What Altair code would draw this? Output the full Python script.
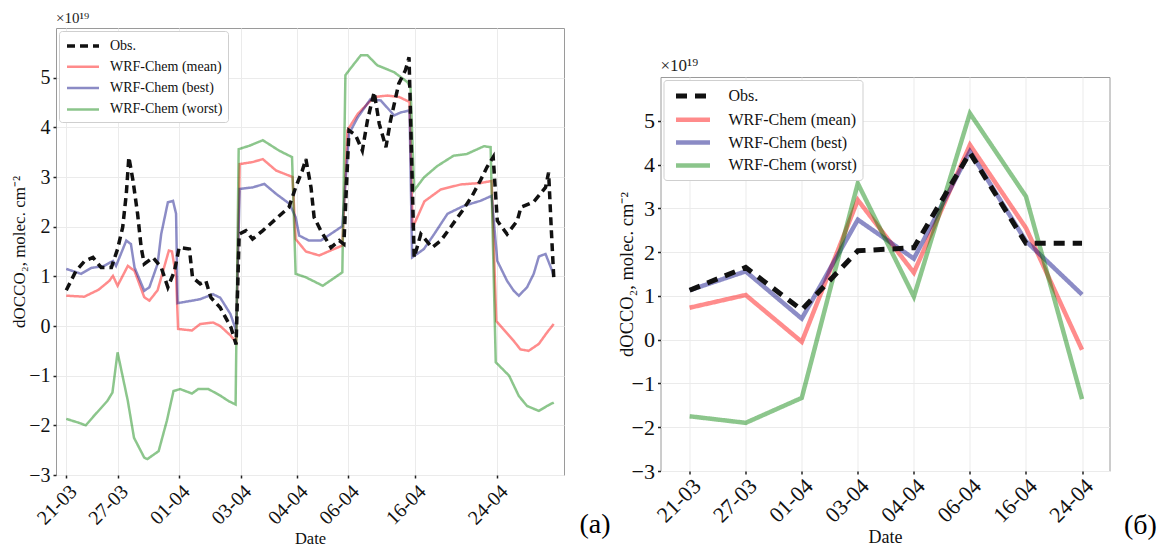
import altair as alt
import pandas as pd

FONT = "Liberation Serif"
SERIES = ["Obs.", "WRF-Chem (mean)", "WRF-Chem (best)", "WRF-Chem (worst)"]
COLORS = ["#111111", "red", "navy", "green"]
OPACITY = [1.0, 0.45, 0.45, 0.45]
DATES = ["21-03", "27-03", "01-04", "03-04", "04-04", "06-04", "16-04", "24-04"]
Y_TICKS = [-3, -2, -1, 0, 1, 2, 3, 4, 5]
PANEL_LABELS = ["(a)", "(б)"]
SCALE_NOTE = "×10¹⁹"
Y_TITLE = "dOCCO₂, molec. cm⁻²"
X_TITLE = "Date"

# ---- panel (a): hourly series, x = sample index ----
a_tick_idx = [0, 10, 22, 34, 45, 55, 68, 84]

a_obs_x = [0, 1.9, 3.6, 5.2, 6.8, 8.8, 10, 11, 11.7, 12.2, 13, 13.9, 14.6, 15.2, 16.9, 18.5,
           19.8, 21.1, 22, 24, 24.6, 26.1, 27.2, 28.2, 30, 32.1, 33.1, 33.7, 35, 36.3, 38.3,
           40.9, 43.4, 44.7, 46.0, 46.7, 47.7, 48.3, 49.6, 51.6, 53.2, 54.1, 55.1, 56.4, 57.7,
           58.7, 60, 61, 62.3, 63.2, 64.8, 66.1, 66.8, 67.8, 69.1, 71.3, 73, 74.9, 77.2, 79.1,
           80.7, 82, 83.2, 84, 85.9, 87.9, 88.6, 91.1, 93.4, 94.0, 94.5, 95]
a_obs_y = [0.72, 1.11, 1.31, 1.38, 1.18, 1.18, 1.55, 1.99, 2.66, 3.40, 2.93, 2.26, 1.58, 1.25,
           1.38, 1.18, 0.78, 1.11, 1.58, 1.55, 0.98, 0.85, 0.91, 0.57, 0.37, -0.03, -0.37, 1.85,
           1.92, 1.75, 1.92, 2.16, 2.39, 2.79, 3.13, 3.36, 2.79, 2.19, 1.92, 1.58, 1.72, 1.65,
           3.94, 3.84, 3.53, 4.14, 4.71, 4.07, 3.60, 4.14, 4.88, 5.15, 5.41, 1.38, 1.85, 1.58,
           1.72, 1.99, 2.32, 2.62, 2.93, 3.20, 3.40, 2.12, 1.85, 2.12, 2.39, 2.50, 2.79, 3.09,
           2.0, 0.98]

a_mean_x = [0, 3.5, 6.3, 8.4, 9.1, 10, 12, 13.3, 15.2, 16.2, 17.8, 20.0, 20.6, 21.4, 21.8, 24.5,
            26.1, 28.6, 30, 32, 33.1, 33.8, 36.3, 38.3, 40.9, 44.1, 44.7, 46.7, 49.3, 51.5, 53.8,
            54.8, 56.8, 60, 62.6, 64.9, 66.9, 67.5, 69.8, 73, 76.9, 80.8, 82.9, 83.8, 87.2, 88.5,
            90.1, 92.1, 93.7, 95]
a_mean_y = [0.61, 0.59, 0.73, 0.91, 1.01, 0.81, 1.21, 1.11, 0.58, 0.51, 0.72, 1.52, 1.50, 1.0,
            -0.06, -0.09, 0.04, 0.07, 0.0, -0.19, -0.33, 3.26, 3.30, 3.36, 3.13, 3.0, 1.75, 1.50,
            1.42, 1.52, 1.62, 3.94, 4.27, 4.61, 4.64, 4.61, 4.51, 1.98, 2.51, 2.75, 2.85, 2.88,
            2.92, 0.10, -0.30, -0.47, -0.50, -0.36, -0.13, 0.04]

a_best_x = [0, 2.9, 4.9, 7.4, 9.1, 9.7, 11.7, 12.6, 13.3, 15.2, 16.2, 17.8, 18.5, 19.8, 20.8,
            21.4, 21.7, 24.5, 26.1, 28.6, 30, 32, 33.1, 33.8, 36.3, 38.6, 40.9, 43.5, 44.7, 45.4,
            47.3, 49.6, 51.5, 53.8, 55.1, 56.8, 59.3, 61.3, 63.9, 65.2, 66.9, 67.4, 69.7, 71.7,
            74.3, 77.5, 80.7, 82.9, 84, 85.9, 87.2, 88.2, 89.8, 91.1, 92.1, 93.4, 94.7, 95]
a_best_y = [1.15, 1.05, 1.17, 1.21, 1.31, 1.21, 1.72, 1.65, 1.18, 0.71, 0.78, 1.25, 1.85, 2.49,
            2.52, 2.26, 0.46, 0.51, 0.54, 0.64, 0.57, 0.24, -0.09, 2.76, 2.79, 2.86, 2.66, 2.46,
            2.19, 1.82, 1.72, 1.72, 1.85, 2.01, 3.87, 4.20, 4.57, 4.54, 4.24, 4.30, 4.34, 1.38,
            1.55, 1.85, 2.26, 2.42, 2.52, 2.62, 1.31, 0.91, 0.71, 0.61, 0.78, 1.05, 1.40, 1.45,
            1.11, 1.0]

a_worst_x = [0, 2.2, 3.8, 5.4, 8, 9, 10, 12, 13.2, 15.2, 15.8, 18, 19.6, 20.9, 22.2, 24.5, 25.7,
             27.7, 30, 31.6, 33.0, 33.6, 35.7, 38.3, 41.5, 44, 44.7, 46.7, 50, 53.8, 54.4, 55.5,
             57.4, 58.7, 60.6, 63.9, 66.5, 67.1, 67.8, 69.7, 72.3, 75.5, 78, 81.4, 82.7, 83.7,
             86.3, 88.2, 89.8, 92.1, 93.7, 95]
a_worst_y = [-1.87, -1.94, -2.0, -1.81, -1.51, -1.34, -0.53, -1.51, -2.25, -2.65, -2.68, -2.52,
             -1.91, -1.31, -1.27, -1.36, -1.27, -1.27, -1.40, -1.51, -1.58, 3.56, 3.63, 3.74,
             3.53, 3.40, 1.05, 0.98, 0.81, 1.08, 5.05, 5.20, 5.45, 5.45, 5.25, 5.11, 4.91, 4.78,
             2.73, 2.99, 3.22, 3.43, 3.46, 3.62, 3.60, -0.73, -1.0, -1.41, -1.61, -1.71, -1.61,
             -1.54]

# ---- panel (б): one value per date ----
b_idx = [0, 1, 2, 3, 4, 5, 6, 7]
b_obs = [1.13, 1.65, 0.68, 2.03, 2.10, 4.27, 2.20, 2.20]
b_mean = [0.73, 1.02, -0.05, 3.19, 1.53, 4.45, 2.55, -0.23]
b_best = [1.13, 1.56, 0.48, 2.74, 1.85, 4.30, 2.25, 1.03]
b_worst = [-1.75, -1.90, -1.33, 3.57, 0.98, 5.17, 3.27, -1.36]


def long_df(xs_list, ys_list):
    rows = []
    for name, xs, ys in zip(SERIES, xs_list, ys_list):
        for x, y in zip(xs, ys):
            rows.append({"idx": x, "value": y, "series": name})
    return pd.DataFrame(rows)


df_a = long_df([a_obs_x, a_mean_x, a_best_x, a_worst_x], [a_obs_y, a_mean_y, a_best_y, a_worst_y])
df_b = long_df([b_idx] * 4, [b_obs, b_mean, b_best, b_worst])


def label_expr(vals, labels):
    e = "''"
    for v, l in reversed(list(zip(vals, labels))):
        e = f"datum.value == {v} ? '{l}' : ({e})"
    return e


def panel(df, W, H, xdom, xticks, lw_obs, lw_mod, dash, leg_fs, tick_fs, ytitle_fs, xtitle_fs,
          ytitle_pad, xlab_pad, sym_size, sym_extra, leg_pad, leg_lab_off, row_pad, note_fs,
          plabel, plabel_dx, plabel_dy, plabel_fs):
    half = sym_size ** 0.5 / 2
    legend = alt.Legend(title=None, orient="top-left", offset=3, fillColor="white",
                        strokeColor="#cfcfcf", padding=leg_pad, cornerRadius=3,
                        symbolType="M-2,0H2", symbolSize=sym_size, symbolOffset=half + sym_extra,
                        labelFont=FONT, labelFontSize=leg_fs,
                        labelOffset=half + sym_extra + leg_lab_off,
                        rowPadding=row_pad, labelColor="#111")
    enc = dict(
        x=alt.X("idx:Q", scale=alt.Scale(domain=xdom, nice=False, zero=False),
                axis=alt.Axis(values=xticks, labelExpr=label_expr(xticks, DATES), labelAngle=-45,
                              title=X_TITLE, labelFontSize=tick_fs, titleFontSize=xtitle_fs,
                              labelPadding=xlab_pad, titlePadding=2, grid=True)),
        y=alt.Y("value:Q", scale=alt.Scale(domain=[-3, 6], nice=False, zero=False),
                axis=alt.Axis(values=Y_TICKS, title=Y_TITLE, labelFontSize=tick_fs,
                              titleFontSize=ytitle_fs, titlePadding=ytitle_pad, grid=True)),
        color=alt.Color("series:N", scale=alt.Scale(domain=SERIES, range=COLORS), legend=legend),
        strokeDash=alt.StrokeDash("series:N", scale=alt.Scale(domain=SERIES,
                                  range=[dash, [1, 0], [1, 0], [1, 0]]), legend=legend),
        strokeWidth=alt.StrokeWidth("series:N", scale=alt.Scale(type="ordinal", domain=SERIES,
                                    range=[lw_obs, lw_mod, lw_mod, lw_mod]), legend=legend),
        opacity=alt.Opacity("series:N", scale=alt.Scale(type="ordinal", domain=SERIES,
                            range=OPACITY), legend=legend),
        order=alt.Order("idx:Q"),
    )
    base = alt.Chart(df)
    models = base.transform_filter(alt.datum.series != SERIES[0]).mark_line(strokeCap="butt").encode(**enc)
    obs = base.transform_filter(alt.datum.series == SERIES[0]).mark_line(strokeCap="butt").encode(**enc)
    lab = alt.Chart(pd.DataFrame({"t": [plabel]})).mark_text(
        font=FONT, fontSize=plabel_fs, align="center", baseline="alphabetic", color="black"
    ).encode(text="t:N", x=alt.value(W + plabel_dx), y=alt.value(H + plabel_dy))
    return alt.layer(models, obs, lab).properties(
        width=W, height=H,
        title=alt.TitleParams(SCALE_NOTE, anchor="start", frame="group", fontSize=note_fs,
                              font=FONT, fontWeight="normal", offset=2, color="#222"))


left = panel(df_a, 508, 447, [-2, 97], a_tick_idx, 3.5, 2.5, [8, 5],
             leg_fs=14, tick_fs=20, ytitle_fs=17, xtitle_fs=16.5, ytitle_pad=0, xlab_pad=3,
             sym_size=256, sym_extra=1, leg_pad=5, leg_lab_off=8, row_pad=4.3, note_fs=15,
             plabel=PANEL_LABELS[0], plabel_dx=31, plabel_dy=58, plabel_fs=28)
right = panel(df_b, 449, 394, [-0.52, 7.49], b_idx, 5, 4.5, [11, 8],
              leg_fs=16, tick_fs=22, ytitle_fs=18.5, xtitle_fs=18, ytitle_pad=-5, xlab_pad=1,
              sym_size=289, sym_extra=5, leg_pad=5, leg_lab_off=11, row_pad=2.8, note_fs=17,
              plabel=PANEL_LABELS[1], plabel_dx=31, plabel_dy=63, plabel_fs=28)

spacer = alt.Chart(pd.DataFrame({"z": [0]})).mark_text(text="").encode(
    x=alt.value(0)).properties(width=449, height=28, view=alt.ViewBackground(strokeOpacity=0))

res = dict(color="independent", strokeDash="independent", strokeWidth="independent",
           opacity="independent", x="independent", y="independent")
leg_res = dict(color="independent", strokeDash="independent", strokeWidth="independent",
               opacity="independent")

right_col = alt.vconcat(spacer, right, spacing=0).resolve_scale(**res).resolve_legend(**leg_res)

chart = alt.hconcat(left, right_col, spacing=4.5).resolve_scale(**res).resolve_legend(**leg_res
).properties(
    padding={"left": 10, "top": 10, "right": 0, "bottom": 0}, background="white"
).configure_view(
    stroke="#9a9a9a", strokeWidth=1
).configure_axis(
    labelFont=FONT, titleFont=FONT, labelColor="#111", titleColor="#111", titleFontWeight="normal",
    domain=False, tickColor="#222", tickSize=3, tickWidth=1.5, labelPadding=3,
    gridColor="#ebebeb", gridWidth=1
)

chart.save("out.html", embed_options={"renderer": "svg", "actions": False})
